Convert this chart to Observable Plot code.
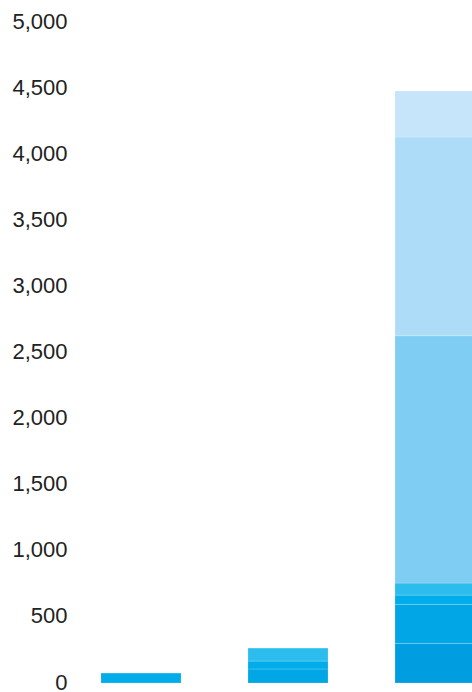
<!DOCTYPE html>
<html>
<head>
<meta charset="utf-8">
<script src="https://cdn.jsdelivr.net/npm/d3@7"></script>
<script src="https://cdn.jsdelivr.net/npm/@observablehq/plot@0.6"></script>
<style>
  html, body { margin: 0; padding: 0; background: #fff; overflow: hidden; }
  #chart svg { overflow: hidden; display: block; }
</style>
</head>
<body>
<div id="chart"></div>
<script>
const categories = ["Group 1", "Group 2", "Group 3"];
const series = ["S1", "S2", "S3", "S4", "S5", "S6", "S7"];
const seriesColors = ["#009ee0", "#00a6e6", "#00acea", "#2cbcee", "#7fcdf3", "#acdcf8", "#c6e5fa"];
const group1Values = [0, 0, 75, 0, 0, 0, 0];
const group2Values = [0, 106, 60, 98, 0, 0, 0];
const group3Values = [300, 295, 70, 91, 1871, 1503, 348];
const yTicks = [0, 500, 1000, 1500, 2000, 2500, 3000, 3500, 4000, 4500, 5000];

const valuesByCategory = [group1Values, group2Values, group3Values];
const data = [];
categories.forEach((c, i) => {
  series.forEach((s, j) => {
    data.push({category: c, series: s, value: valuesByCategory[i][j]});
  });
});

const chart = Plot.plot({
  width: 472,
  height: 692,
  marginTop: 22,
  marginBottom: 9,
  marginLeft: 70,
  marginRight: 0,
  style: {fontFamily: "'Liberation Sans', Arial, sans-serif", fontSize: "22px", color: "#222", background: "#fff"},
  x: {domain: categories, range: [32.5, 542.5], padding: 0.458, axis: null},
  y: {domain: [0, 5000], axis: null},
  color: {domain: series, range: seriesColors},
  marks: [
    Plot.barY(data, {
      x: "category", y: "value", z: "series", fill: "series",
      stroke: "#fff", strokeOpacity: 0.18, strokeWidth: 1
    }),
    Plot.axisY({
      ticks: yTicks, tickSize: 0, tickPadding: 3, label: null, dy: -1,
      tickFormat: d3.format(","), fontSize: 22, fill: "#222"
    })
  ]
});
document.getElementById("chart").appendChild(chart);
</script>
</body>
</html>
